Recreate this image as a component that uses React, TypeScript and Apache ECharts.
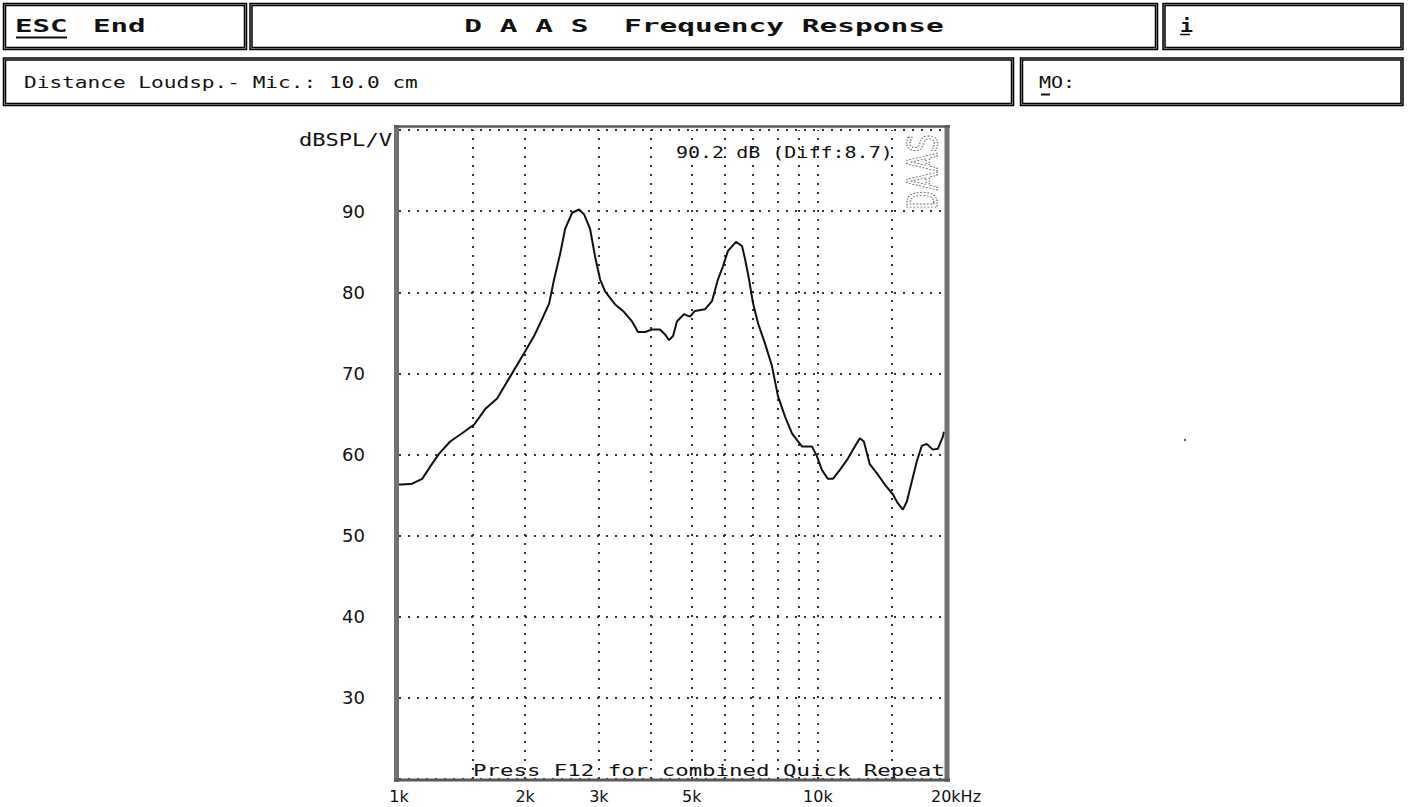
import React, { useEffect, useRef } from 'react';
import * as echarts from 'echarts';

// ---- data ----
const FREQ_HZ = [1000, 1018, 1075, 1136, 1187, 1247, 1325, 1431, 1512, 1606, 1715, 1842, 1990, 2101, 2196, 2282, 2346, 2424, 2492, 2590, 2691, 2766, 2859, 2938, 3020, 3104, 3191, 3280, 3426, 3600, 3721, 3867, 4018, 4199, 4315, 4412, 4510, 4608, 4789, 4950, 5088, 5375, 5586, 5774, 5934, 6101, 6375, 6590, 6700, 6848, 6998, 7193, 7475, 7769, 8029, 8344, 8670, 9159, 9676, 9945, 10221, 10565, 10859, 11285, 11792, 12255, 12596, 12876, 13299, 13822, 14446, 15095, 15515, 15951, 16306, 16763, 17232, 17710, 18197, 18806, 19335, 19874, 20000];
const SPL_DB = [56.3, 56.3, 56.4, 57.0, 58.5, 60.1, 61.6, 62.8, 63.7, 65.6, 66.9, 69.6, 72.5, 74.6, 76.7, 78.6, 81.6, 84.7, 87.8, 89.8, 90.2, 89.6, 87.8, 84.4, 81.6, 80.1, 79.3, 78.5, 77.7, 76.4, 75.1, 75.1, 75.4, 75.4, 74.8, 74.1, 74.6, 76.4, 77.3, 77.0, 77.7, 77.9, 78.9, 81.6, 83.2, 85.1, 86.2, 85.7, 84.1, 81.6, 78.7, 76.2, 73.7, 70.9, 67.2, 64.7, 62.6, 61.0, 61.0, 59.8, 58.1, 57.0, 57.0, 58.1, 59.5, 61.0, 62.0, 61.6, 58.8, 57.7, 56.3, 55.1, 54.0, 53.2, 54.2, 56.7, 59.2, 61.1, 61.3, 60.6, 60.7, 62.2, 62.8];

const GRID_FREQS_HZ = [1500, 2000, 3000, 4000, 5000, 6000, 7000, 8000, 9000, 10000, 15000];
const X_TICK_FREQS_HZ = [1000, 2000, 3000, 5000, 10000, 20000];
const X_TICK_LABELS = ['1k', '2k', '3k', '5k', '10k', '20kHz'];
const Y_TICKS_DB = [30, 40, 50, 60, 70, 80, 90];
const X_MIN_HZ = 1000;
const X_MAX_HZ = 20000;
const Y_MIN_DB = 20;
const Y_MAX_DB = 100;
const Y_STEP_DB = 10;

const TITLE = 'D A A S  Frequency Response';
const DISTANCE_TEXT = 'Distance Loudsp.- Mic.: 10.0 cm';
const PEAK_TEXT = '90.2 dB (Diff:8.7)';
const FOOT_TEXT = 'Press F12 for combined Quick Repeat';
const Y_NAME = 'dBSPL/V';

const MONO = '"DejaVu Sans Mono", "Liberation Mono", monospace';
const SANS = '"DejaVu Sans", "Liberation Sans", sans-serif';
const INK = '#111';

function txt(text: string, x: number, y: number, o: any = {}) {
  return {
    type: 'text',
    x,
    y,
    scaleX: o.sx ?? 1,
    scaleY: o.sy ?? 1,
    rotation: o.rot ?? 0,
    z: 100,
    silent: true,
    style: {
      text,
      x: 0,
      y: 0,
      fontFamily: o.family ?? MONO,
      fontSize: o.size ?? 16,
      fontWeight: o.weight ?? 'normal',
      fill: o.fill ?? INK,
      stroke: o.stroke,
      lineWidth: o.lw,
      lineDash: o.dash,
      align: o.align ?? 'left',
      verticalAlign: 'middle',
    },
  };
}

function box(x: number, y: number, w: number, h: number) {
  return [
    { type: 'rect', z: 90, silent: true, shape: { x, y, width: w, height: h }, style: { fill: '#fff', stroke: '#000', lineWidth: 3.5 } },
    { type: 'rect', z: 91, silent: true, shape: { x, y, width: w, height: h }, style: { fill: 'none', stroke: '#8a8a8a', lineWidth: 0.8 } },
  ];
}

function hline(x1: number, x2: number, y: number, w: number, color = INK, z = 101) {
  return { type: 'line', z, silent: true, shape: { x1, y1: y, x2, y2: y }, style: { stroke: color, lineWidth: w } };
}
function vline(x: number, y1: number, y2: number, w: number, color = INK, z = 101) {
  return { type: 'line', z, silent: true, shape: { x1: x, y1, x2: x, y2 }, style: { stroke: color, lineWidth: w } };
}

export default function App() {
  const ref = useRef<HTMLDivElement>(null);

  useEffect(() => {
    if (!ref.current) return;
    const chart = echarts.init(ref.current, undefined, { renderer: 'svg' });

    const markFreqs = Array.from(new Set([...X_TICK_FREQS_HZ, ...GRID_FREQS_HZ])).sort((a, b) => a - b);
    const markData = markFreqs.map((f) => {
      const li = X_TICK_FREQS_HZ.indexOf(f);
      const isGrid = GRID_FREQS_HZ.indexOf(f) >= 0;
      return {
        xAxis: f,
        lineStyle: isGrid ? { color: '#333', width: 2, type: [2, 7] } : { color: 'rgba(0,0,0,0)', width: 0 },
        label:
          li >= 0
            ? {
                show: true,
                position: 'start',
                formatter: X_TICK_LABELS[li],
                color: INK,
                fontFamily: SANS,
                fontSize: 16,
                distance: 9,
                padding: f === X_MAX_HZ ? [0, 0, 0, 24] : 0,
              }
            : { show: false },
      };
    });

    const graphic: any[] = [
      ...box(4.5, 4.5, 241, 44),
      ...box(251, 4.5, 905.5, 44),
      ...box(1164, 4.5, 238, 44),
      ...box(4.5, 59, 1008, 45.5),
      ...box(1021.5, 59, 380.5, 45.5),
      txt('ESC', 15, 26, { size: 18, weight: 'bold', sx: 1.62 }),
      hline(16, 67, 37.5, 2),
      txt('End', 93, 26, { size: 18, weight: 'bold', sx: 1.62 }),
      txt(TITLE, 704, 26, { size: 18, weight: 'bold', sx: 1.64, align: 'center' }),
      txt('i', 1180, 26, { size: 18, weight: 'bold', sx: 1.2 }),
      hline(1180, 1190, 34.5, 1.5),
      txt(DISTANCE_TEXT, 24, 82, { size: 16, sx: 1.32 }),
      txt('MO:', 1039, 82, { size: 16, sx: 1.25 }),
      hline(1041, 1050, 94.5, 2),
      // texts inside / around the plot
      txt(Y_NAME, 392, 140, { size: 17, sx: 1.3, align: 'right' }),
      txt(PEAK_TEXT, 676, 152, { size: 16, sx: 1.25 }),
      txt(FOOT_TEXT, 473, 771, { size: 16, sx: 1.4 }),
      txt('DAAS', 923, 171.5, { size: 28, sx: 1.12, sy: 1.47, rot: Math.PI / 2, align: 'center', fill: 'none', stroke: '#666', lw: 0.8, dash: [1.2, 1.2] }),
      // plot frame (dithered look)
      vline(396.5, 125, 782, 5, '#727272'),
      vline(947, 125, 782, 5, '#727272'),
      hline(394, 950, 126.5, 2.5, '#5a5a5a'),
      hline(394, 950, 780, 3, '#5a5a5a'),
      { type: 'circle', z: 101, silent: true, shape: { cx: 1185, cy: 440, r: 1 }, style: { fill: '#333' } },
    ];

    chart.setOption({
      animation: false,
      backgroundColor: '#fff',
      grid: { left: 399, top: 130, width: 545, height: 649, containLabel: false, show: false },
      xAxis: {
        type: 'log',
        logBase: 10,
        min: X_MIN_HZ,
        max: X_MAX_HZ,
        axisLine: { show: false },
        axisTick: { show: false },
        axisLabel: { show: false },
        splitLine: { show: false },
        minorSplitLine: { show: false },
      },
      yAxis: {
        type: 'value',
        min: Y_MIN_DB,
        max: Y_MAX_DB,
        interval: Y_STEP_DB,
        axisLine: { show: false },
        axisTick: { show: false },
        axisLabel: {
          color: INK,
          fontFamily: SANS,
          fontSize: 18,
          margin: 34,
          formatter: (v: number) => (Y_TICKS_DB.indexOf(v) >= 0 ? String(v) : ''),
        },
        splitLine: { show: true, lineStyle: { color: '#333', width: 2, type: [2, 7] } },
      },
      series: [
        {
          type: 'line',
          data: FREQ_HZ.map((f, i) => [f, SPL_DB[i]]),
          showSymbol: false,
          symbol: 'none',
          smooth: false,
          z: 3,
          lineStyle: { color: INK, width: 2 },
          markLine: {
            silent: true,
            z: 1,
            symbol: ['none', 'none'],
            animation: false,
            data: markData,
          },
        },
      ],
      graphic,
    });

    return () => {
      chart.dispose();
    };
  }, []);

  return <div ref={ref} style={{ position: 'absolute', left: 0, top: 0, width: 1408, height: 807 }} />;
}
